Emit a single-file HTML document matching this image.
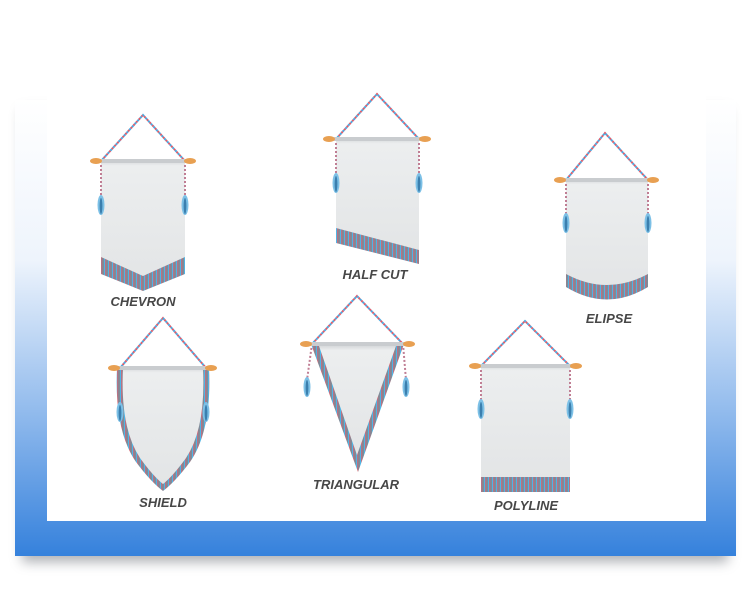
<!DOCTYPE html>
<html><head><meta charset="utf-8"><style>
html,body{margin:0;padding:0;width:750px;height:598px;background:#fff;overflow:hidden}
svg{display:block}
text{font-family:"Liberation Sans",sans-serif;font-weight:bold;font-style:italic;font-size:13px;fill:#474747;text-anchor:middle}
</style></head><body>
<svg width="750" height="598" viewBox="0 0 750 598" xmlns="http://www.w3.org/2000/svg">
<defs>
<linearGradient id="bg" x1="0" y1="0" x2="0" y2="1">
<stop offset="0" stop-color="#ffffff"/>
<stop offset="0.35" stop-color="#eef4fc"/>
<stop offset="0.7" stop-color="#8db8ec"/>
<stop offset="1" stop-color="#3581dc"/>
</linearGradient>
<filter id="sh" x="-10%" y="-10%" width="120%" height="130%"><feGaussianBlur stdDeviation="6"/></filter>
<pattern id="fr" width="4" height="40" patternUnits="userSpaceOnUse">
<rect width="4" height="40" fill="#6f7d8c"/>
<rect x="0" width="1.3" height="40" fill="#4fb4e4"/>
<rect x="1.3" width="1" height="40" fill="#e0606a"/>
<rect x="2.3" width="1.7" height="40" fill="#7f8b99"/>
</pattern>
<linearGradient id="ban" x1="0" y1="0" x2="0" y2="1">
<stop offset="0" stop-color="#d6d9db"/><stop offset="0.04" stop-color="#eceeef"/><stop offset="1" stop-color="#e3e5e6"/>
</linearGradient>
<g id="tas"><ellipse cx="0" cy="0" rx="3.5" ry="10" fill="#7cc0e6"/><ellipse cx="0" cy="1" rx="1.4" ry="8" fill="#3b7fae"/></g>
</defs>
<rect x="22" y="110" width="706" height="452" fill="#6a6f78" opacity="0.55" filter="url(#sh)"/>
<rect x="15" y="100" width="721" height="456" fill="url(#bg)"/>
<rect x="47" y="95" width="659" height="426" fill="#fff"/>

<!-- CHEVRON -->
<g>
<polygon points="101,161 185,161 185,262 143,281 101,262" fill="url(#ban)"/>
<polygon points="101,257 143,276 185,257 185,274 143,291 101,274" fill="url(#fr)"/>
<path d="M101,161 L143,115 L185,161" fill="none" stroke="#e05c6a" stroke-width="2" stroke-dasharray="2 2"/>
<path d="M101,161 L143,115 L185,161" fill="none" stroke="#4aa8e0" stroke-width="2" stroke-dasharray="2 2" stroke-dashoffset="2"/>
<path d="M101,161 L101,198 M185,161 L185,198" stroke="#c07e94" stroke-width="2" stroke-dasharray="2 2"/>
<rect x="100" y="159" width="86" height="4" fill="#c9cccf"/>
<ellipse cx="96" cy="161" rx="6" ry="3" fill="#e8a052"/><ellipse cx="190" cy="161" rx="6" ry="3" fill="#e8a052"/>
<use href="#tas" x="101" y="205"/><use href="#tas" x="185" y="205"/>
<text x="143" y="306">CHEVRON</text>
</g>

<!-- HALF CUT -->
<g>
<polygon points="336,139 419,139 419,252 336,229" fill="url(#ban)"/>
<polygon points="336,228 419,250 419,264 336,243" fill="url(#fr)"/>
<path d="M336,139 L377,94 L419,139" fill="none" stroke="#e05c6a" stroke-width="2" stroke-dasharray="2 2"/>
<path d="M336,139 L377,94 L419,139" fill="none" stroke="#4aa8e0" stroke-width="2" stroke-dasharray="2 2" stroke-dashoffset="2"/>
<path d="M336,139 L336,176 M419,139 L419,176" stroke="#c07e94" stroke-width="2" stroke-dasharray="2 2"/>
<rect x="334" y="137" width="87" height="4" fill="#c9cccf"/>
<ellipse cx="329" cy="139" rx="6" ry="3" fill="#e8a052"/><ellipse cx="425" cy="139" rx="6" ry="3" fill="#e8a052"/>
<use href="#tas" x="336" y="183"/><use href="#tas" x="419" y="183"/>
<text x="375" y="279">HALF CUT</text>
</g>

<!-- ELIPSE -->
<g>
<path d="M566,180 L648,180 L648,276 Q607,300 566,276 Z" fill="url(#ban)"/>
<path d="M566,274 Q607,296 648,274 L648,287 Q607,312 566,287 Z" fill="url(#fr)"/>
<path d="M566,180 L605,133 L648,180" fill="none" stroke="#e05c6a" stroke-width="2" stroke-dasharray="2 2"/>
<path d="M566,180 L605,133 L648,180" fill="none" stroke="#4aa8e0" stroke-width="2" stroke-dasharray="2 2" stroke-dashoffset="2"/>
<path d="M566,180 L566,217 M648,180 L648,217" stroke="#c07e94" stroke-width="2" stroke-dasharray="2 2"/>
<rect x="564" y="178" width="86" height="4" fill="#c9cccf"/>
<ellipse cx="560" cy="180" rx="6" ry="3" fill="#e8a052"/><ellipse cx="653" cy="180" rx="6" ry="3" fill="#e8a052"/>
<use href="#tas" x="566" y="223"/><use href="#tas" x="648" y="223"/>
<text x="609" y="323">ELIPSE</text>
</g>

<!-- SHIELD -->
<g>
<path d="M117,368 L209,368 Q212,430 190,462 Q175,482 163,491 Q151,482 136,462 Q114,430 117,368 Z" fill="url(#fr)"/>
<path d="M123,368 L203,368 Q206,428 186,458 Q173,476 163,484 Q153,476 140,458 Q120,428 123,368 Z" fill="url(#ban)"/>
<path d="M120,368 L163,318 L206,368" fill="none" stroke="#e05c6a" stroke-width="2" stroke-dasharray="2 2"/>
<path d="M120,368 L163,318 L206,368" fill="none" stroke="#4aa8e0" stroke-width="2" stroke-dasharray="2 2" stroke-dashoffset="2"/>
<rect x="118" y="366" width="90" height="4" fill="#c9cccf"/>
<ellipse cx="114" cy="368" rx="6" ry="3" fill="#e8a052"/><ellipse cx="211" cy="368" rx="6" ry="3" fill="#e8a052"/>
<use href="#tas" x="120" y="412"/><use href="#tas" x="206" y="412"/>
<text x="163" y="507">SHIELD</text>
</g>

<!-- TRIANGULAR -->
<g>
<polygon points="311,344 404,344 358,472" fill="url(#fr)"/>
<polygon points="319,346 396,346 357,455" fill="url(#ban)"/>
<path d="M312,344 L357,296 L403,344" fill="none" stroke="#e05c6a" stroke-width="2" stroke-dasharray="2 2"/>
<path d="M312,344 L357,296 L403,344" fill="none" stroke="#4aa8e0" stroke-width="2" stroke-dasharray="2 2" stroke-dashoffset="2"/>
<path d="M312,344 L307,380 M403,344 L406,380" stroke="#c07e94" stroke-width="2" stroke-dasharray="2 2"/>
<rect x="310" y="342" width="95" height="4" fill="#c9cccf"/>
<ellipse cx="306" cy="344" rx="6" ry="3" fill="#e8a052"/><ellipse cx="409" cy="344" rx="6" ry="3" fill="#e8a052"/>
<use href="#tas" x="307" y="387"/><use href="#tas" x="406" y="387"/>
<text x="356" y="489">TRIANGULAR</text>
</g>

<!-- POLYLINE -->
<g>
<rect x="481" y="366" width="89" height="112" fill="url(#ban)"/>
<rect x="481" y="477" width="89" height="15" fill="url(#fr)"/>
<path d="M481,366 L525,321 L570,366" fill="none" stroke="#e05c6a" stroke-width="2" stroke-dasharray="2 2"/>
<path d="M481,366 L525,321 L570,366" fill="none" stroke="#4aa8e0" stroke-width="2" stroke-dasharray="2 2" stroke-dashoffset="2"/>
<path d="M481,366 L481,402 M570,366 L570,402" stroke="#c07e94" stroke-width="2" stroke-dasharray="2 2"/>
<rect x="479" y="364" width="93" height="4" fill="#c9cccf"/>
<ellipse cx="475" cy="366" rx="6" ry="3" fill="#e8a052"/><ellipse cx="576" cy="366" rx="6" ry="3" fill="#e8a052"/>
<use href="#tas" x="481" y="409"/><use href="#tas" x="570" y="409"/>
<text x="526" y="510">POLYLINE</text>
</g>
</svg>
</body></html>
